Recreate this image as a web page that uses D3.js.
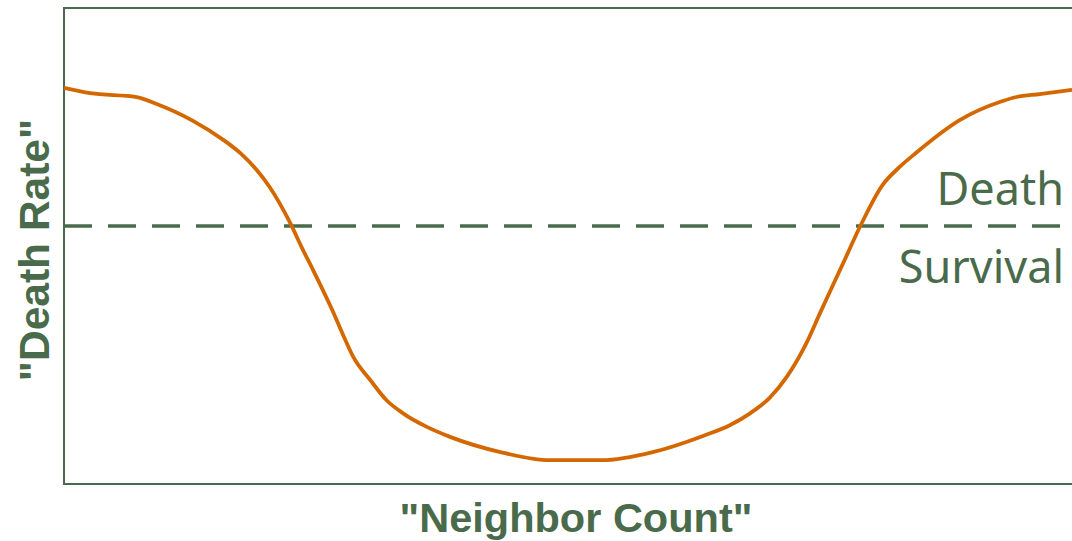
<!DOCTYPE html>
<html>
<head>
<meta charset="utf-8">
<script src="https://cdn.jsdelivr.net/npm/d3@7"></script>
<style>
  html, body { margin: 0; padding: 0; background: #ffffff; }
  svg { display: block; }
</style>
</head>
<body>
<svg id="chart" width="1072" height="541"></svg>
<script>
// Neighbor count (relative scale 0-100) and death rate (relative scale 0-100)
const neighborCount = [0, 2.6, 7.2, 9.0, 12.8, 15.8, 17.5, 19.1, 20.4, 22.4, 23.7, 24.7, 26.6, 27.9, 28.7, 30.4, 32.0, 33.6, 36.0, 38.3, 43.3, 48.2, 53.4, 58.4, 63.4, 66.1, 68.1, 70.0, 71.7, 73.7, 75.0, 77.3, 79.0, 81.2, 82.9, 84.6, 88.9, 92.9, 94.5, 96.8, 100];
const deathRate = [83.2, 82.1, 81.3, 80.0, 76.3, 72.3, 69.5, 66.0, 62.4, 55.0, 49.2, 45.0, 36.6, 30.3, 26.7, 21.8, 17.6, 14.9, 12.0, 9.9, 6.7, 5.0, 5.0, 6.7, 10.1, 12.4, 14.9, 18.1, 22.5, 29.8, 35.9, 46.4, 54.2, 62.8, 66.6, 69.7, 76.5, 80.3, 81.3, 81.9, 82.8];
const threshold = [54.2];
const zoneLabels = ["Death", "Survival"];
const xTitle = "\"Neighbor Count\"";
const yTitle = "\"Death Rate\"";

const green = "#4a6b4b";
const orange = "#d46800";

const svg = d3.select("#chart");
const mLeft = 64, mRight = 1072, mTop = 8, mBottom = 484;

const x = d3.scaleLinear().domain([0, 100]).range([mLeft, mRight]);
const y = d3.scaleLinear().domain([0, 100]).range([mBottom, mTop]);

// frame: left, top, bottom lines
svg.append("line").attr("x1", mLeft).attr("x2", mLeft).attr("y1", mTop).attr("y2", mBottom)
  .attr("stroke", green).attr("stroke-width", 2);
svg.append("line").attr("x1", mLeft - 1).attr("x2", mRight).attr("y1", mTop).attr("y2", mTop)
  .attr("stroke", green).attr("stroke-width", 2);
svg.append("line").attr("x1", mLeft - 1).attr("x2", mRight).attr("y1", mBottom).attr("y2", mBottom)
  .attr("stroke", green).attr("stroke-width", 2);

// threshold dashed line
svg.selectAll("line.thr").data(threshold).enter().append("line")
  .attr("class", "thr")
  .attr("x1", mLeft).attr("x2", mRight)
  .attr("y1", d => y(d)).attr("y2", d => y(d))
  .attr("stroke", green).attr("stroke-width", 3.5)
  .attr("stroke-dasharray", "28,16");

// curve
const pts = neighborCount.map((v, i) => [v, deathRate[i]]);
const line = d3.line().x(d => x(d[0])).y(d => y(d[1])).curve(d3.curveMonotoneX);
svg.append("path").datum(pts)
  .attr("d", line)
  .attr("fill", "none")
  .attr("stroke", orange)
  .attr("stroke-width", 3.8)
  .attr("stroke-linejoin", "round");

// zone labels
svg.append("text").attr("x", 1064).attr("y", y(threshold[0]) - 21)
  .attr("text-anchor", "end")
  .attr("font-family", "'Noto Sans', 'Open Sans', sans-serif")
  .attr("font-size", 45)
  .attr("fill", green)
  .text(zoneLabels[0]);
svg.append("text").attr("x", 1064).attr("y", y(threshold[0]) + 57)
  .attr("text-anchor", "end")
  .attr("font-family", "'Noto Sans', 'Open Sans', sans-serif")
  .attr("font-size", 45)
  .attr("fill", green)
  .text(zoneLabels[1]);

// axis titles
svg.append("text")
  .attr("x", (mLeft + mRight) / 2 + 8).attr("y", 532)
  .attr("text-anchor", "middle")
  .attr("font-family", "'Liberation Sans', Arial, sans-serif")
  .attr("font-weight", "bold")
  .attr("font-size", 41.5)
  .attr("fill", green)
  .text(xTitle);

svg.append("text")
  .attr("transform", `translate(49, ${(mTop + mBottom) / 2 + 4}) rotate(-90)`)
  .attr("text-anchor", "middle")
  .attr("font-family", "'Liberation Sans', Arial, sans-serif")
  .attr("font-weight", "bold")
  .attr("font-size", 42.5)
  .attr("fill", green)
  .text(yTitle);
</script>
</body>
</html>
